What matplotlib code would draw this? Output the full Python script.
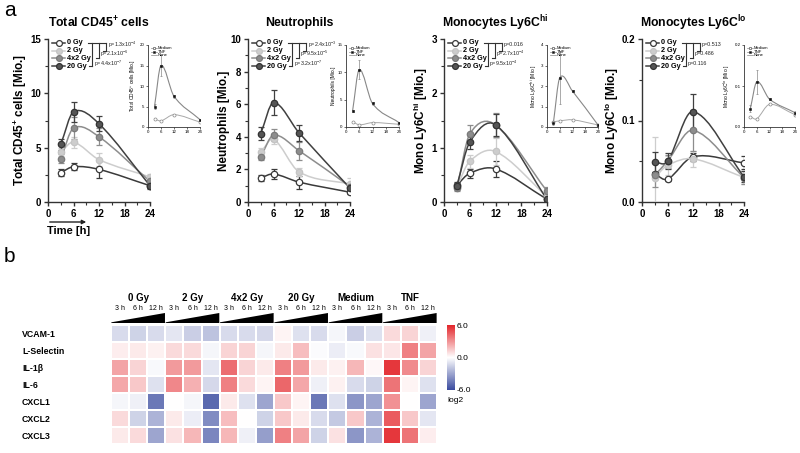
import matplotlib
matplotlib.use('Agg')
import matplotlib.pyplot as plt
import numpy as np
from matplotlib.path import Path
from matplotlib.patches import PathPatch, Polygon
from matplotlib.colors import LinearSegmentedColormap
from matplotlib.lines import Line2D
import matplotlib.transforms as mtransforms

plt.rcParams['font.family'] = ['Liberation Sans', 'DejaVu Sans']
plt.rcParams['mathtext.fontset'] = 'custom'
plt.rcParams['mathtext.rm'] = 'Liberation Sans'
plt.rcParams['mathtext.bf'] = 'Liberation Sans:bold'

# ---------------- data ----------------
times = [3, 6, 12, 24]
groups = ['0 Gy', '2 Gy', '4x2 Gy', '20 Gy']

cd45_means = [[2.7, 3.25, 3.0, 1.5],
              [4.6, 5.5, 3.9, 2.3],
              [4.0, 6.8, 6.0, 1.9],
              [5.3, 8.3, 7.2, 1.5]]
cd45_errs = [[0.35, 0.35, 0.75, 0.15],
             [0.4, 0.5, 0.6, 0.3],
             [0.4, 1.0, 0.8, 0.3],
             [0.5, 0.9, 0.7, 0.3]]

neut_means = [[1.48, 1.72, 1.22, 0.6],
              [3.05, 3.85, 1.85, 1.1],
              [2.78, 4.1, 3.15, 0.95],
              [4.2, 6.1, 4.25, 0.85]]
neut_errs = [[0.2, 0.3, 0.4, 0.1],
             [0.25, 0.3, 0.25, 0.35],
             [0.2, 0.35, 0.55, 0.15],
             [0.4, 0.75, 0.5, 0.1]]

monohi_means = [[0.31, 0.53, 0.61, 0.05],
                [0.28, 0.75, 0.93, 0.1],
                [0.25, 1.25, 1.42, 0.2],
                [0.3, 1.1, 1.42, 0.05]]
monohi_errs = [[0.05, 0.08, 0.15, 0.02],
               [0.04, 0.12, 0.25, 0.05],
               [0.05, 0.17, 0.22, 0.08],
               [0.04, 0.13, 0.2, 0.03]]

monolo_means = [[0.034, 0.028, 0.0556, 0.048],
                [0.03, 0.045, 0.053, 0.03],
                [0.033, 0.05, 0.088, 0.03],
                [0.049, 0.05, 0.111, 0.031]]
monolo_errs = [[0.003, 0.002, 0.005, 0.008],
               [0.05, 0.012, 0.01, 0.008],
               [0.015, 0.008, 0.025, 0.008],
               [0.012, 0.01, 0.022, 0.007]]

pvals_cd45 = [r'p=1.3x10$^{-4}$', r'p=2.1x10$^{-6}$', r'p=4.4x10$^{-7}$']
pvals_neut = [r'p=2.4x10$^{-3}$', r'p=9.5x10$^{-5}$', r'p=3.2x10$^{-7}$']
pvals_monohi = ['p=0.016', r'p=2.7x10$^{-4}$', r'p=9.5x10$^{-4}$']
pvals_monolo = ['p=0.513', 'p=0.486', 'p=0.116']

inset_groups = ['Medium', 'TNF', 'None']
inset_cd45_medium = [2.0, 1.5, 3.0, 1.2]
inset_cd45_tnf = [5.0, 15.0, 7.5, 1.8]
inset_cd45_tnf_err = [0.5, 2.5, 0.4, 0.2]
inset_neut_medium = [1.0, 0.4, 0.8, 0.5]
inset_neut_tnf = [3.0, 10.5, 4.3, 0.8]
inset_neut_tnf_err = [0.2, 1.8, 0.2, 0.1]
inset_monohi_medium = [0.25, 0.3, 0.35, 0.1]
inset_monohi_tnf = [0.2, 2.4, 1.75, 0.1]
inset_monohi_tnf_err = [0.1, 1.3, 0.05, 0.03]
inset_monolo_medium = [0.025, 0.02, 0.055, 0.03]
inset_monolo_tnf = [0.045, 0.11, 0.068, 0.035]
inset_monolo_tnf_err = [0.008, 0.03, 0.003, 0.005]

genes = ['VCAM-1', 'L-Selectin', 'IL-1\u03b2', 'IL-6', 'CXCL1', 'CXCL2', 'CXCL3']
conditions = ['0 Gy', '2 Gy', '4x2 Gy', '20 Gy', 'Medium', 'TNF']
hm_times = ['3 h', '6 h', '12 h']
heat_values = [
    [-1.2, -1.5, -1.2, -0.8, -1.6, -2.0, -1.2, -1.2, -1.3, 0.3, -1.0, -1.2, -0.3, -1.6, -1.0, 1.0, 1.2, -0.5],
    [0.5, 0.6, 0.4, 1.0, 1.0, -0.3, 1.2, 1.2, -0.3, 0.6, 1.8, -0.1, -0.6, -0.2, 0.8, 0.7, 3.5, 2.5],
    [2.5, 1.2, -0.2, 2.8, 2.8, -0.8, 4.0, 1.2, 0.6, 3.5, 2.8, 0.6, 0.4, 2.0, 0.2, 5.5, 3.2, 1.2],
    [2.4, 1.5, -1.0, 3.3, 2.2, -1.3, 3.5, 1.0, 0.3, 4.2, 2.4, -0.5, 0.4, -1.2, -1.5, 3.8, 0.3, -1.0],
    [-0.3, -0.5, -4.5, 0.0, -0.3, -5.0, 0.6, -1.0, -3.0, 1.5, 0.3, -4.5, -1.0, -3.5, -3.0, 3.0, 0.0, -3.0],
    [1.0, -1.5, -2.5, 0.6, -0.6, -3.8, 1.8, 0.0, -1.5, 1.5, 0.6, -1.2, -1.8, 1.5, -2.5, 4.5, 1.5, -0.8],
    [0.6, 1.0, -3.0, 0.8, 2.0, -4.0, 2.0, -0.5, -3.2, 3.5, 2.5, -1.5, 0.8, -3.5, -2.5, 5.5, 3.8, 0.5],
]

# ---------------- helpers ----------------
W, H = 800, 453
fig = plt.figure(figsize=(8, 4.53), dpi=100)


def add_ax(l, r, t, b):
    return fig.add_axes([l / W, 1 - b / H, (r - l) / W, (b - t) / H])


def fx(px):
    return px / W


def fy(py):
    return 1 - py / H


def smooth_path(x, y):
    x = np.asarray(x, float)
    y = np.asarray(y, float)
    n = len(x)
    m = np.zeros(n)
    m[0] = (y[1] - y[0]) / (x[1] - x[0])
    m[-1] = (y[-1] - y[-2]) / (x[-1] - x[-2])
    for i in range(1, n - 1):
        m[i] = (y[i + 1] - y[i - 1]) / (x[i + 1] - x[i - 1])
    verts = [(x[0], y[0])]
    codes = [Path.MOVETO]
    for i in range(n - 1):
        h = x[i + 1] - x[i]
        verts += [(x[i] + h / 3, y[i] + m[i] * h / 3),
                  (x[i + 1] - h / 3, y[i + 1] - m[i + 1] * h / 3),
                  (x[i + 1], y[i + 1])]
        codes += [Path.CURVE4] * 3
    return Path(verts, codes)


styles = [
    dict(line='#3a3a3a', mfc='white', mec='#3a3a3a'),
    dict(line='#cdcdcd', mfc='#cdcdcd', mec='#c4c4c4'),
    dict(line='#8d8d8d', mfc='#8d8d8d', mec='#7a7a7a'),
    dict(line='#404040', mfc='#555555', mec='#333333'),
]

panels = [
    dict(L=48, R=150, ylim=(0, 15), yticks=[0, 5, 10, 15], yminor=[2.5, 7.5, 12.5],
         ytl=['0', '5', '10', '15'],
         title=r'Total CD45$^{\mathbf{+}}$ cells', ylabel=r'Total CD45$^{\mathbf{+}}$ cells [Mio.]', ylx=29,
         means=cd45_means, errs=cd45_errs, pv=pvals_cd45,
         inset=dict(L=148, R=200, ylim=(0, 20), yticks=[0, 5, 10, 15, 20], ytl=['0', '5', '10', '15', '20'],
                    med=inset_cd45_medium, tnf=inset_cd45_tnf, tnf_err=inset_cd45_tnf_err,
                    ylabel=r'Total CD45$^{+}$ cells [Mio.]')),
    dict(L=248, R=350, ylim=(0, 10), yticks=[0, 2, 4, 6, 8, 10], yminor=[1, 3, 5, 7, 9],
         ytl=['0', '2', '4', '6', '8', '10'],
         title='Neutrophils', ylabel='Neutrophils [Mio.]', ylx=230,
         means=neut_means, errs=neut_errs, pv=pvals_neut,
         inset=dict(L=346, R=399, ylim=(0, 15), yticks=[0, 5, 10, 15], ytl=['0', '5', '10', '15'],
                    med=inset_neut_medium, tnf=inset_neut_tnf, tnf_err=inset_neut_tnf_err,
                    ylabel='Neutrophils [Mio.]')),
    dict(L=444, R=547, ylim=(0, 3), yticks=[0, 1, 2, 3], yminor=[0.5, 1.5, 2.5],
         ytl=['0', '1', '2', '3'],
         title=r'Monocytes Ly6C$^{\mathbf{hi}}$', ylabel=r'Mono Ly6C$^{\mathbf{hi}}$ [Mio.]', ylx=430,
         means=monohi_means, errs=monohi_errs, pv=pvals_monohi,
         inset=dict(L=547, R=598, ylim=(0, 4), yticks=[0, 1, 2, 3, 4], ytl=['0', '1', '2', '3', '4'],
                    med=inset_monohi_medium, tnf=inset_monohi_tnf, tnf_err=inset_monohi_tnf_err,
                    ylabel=r'Mono Ly6C$^{hi}$ [Mio.]')),
    dict(L=642, R=744, ylim=(0, 0.2), yticks=[0, 0.1, 0.2], yminor=[0.05, 0.15],
         ytl=['0.0', '0.1', '0.2'],
         title=r'Monocytes Ly6C$^{\mathbf{lo}}$', ylabel=r'Mono Ly6C$^{\mathbf{lo}}$ [Mio.]', ylx=621,
         means=monolo_means, errs=monolo_errs, pv=pvals_monolo,
         inset=dict(L=744, R=795, ylim=(0, 0.2), yticks=[0, 0.1, 0.2], ytl=['0.0', '0.1', '0.2'],
                    med=inset_monolo_medium, tnf=inset_monolo_tnf, tnf_err=inset_monolo_tnf_err,
                    ylabel=r'Mono Ly6C$^{lo}$ [Mio.]')),
]

SP = '#333333'
for p in panels:
    ax = add_ax(p['L'], p['R'], 39, 202)
    ax.set_xlim(0, 24)
    ax.set_ylim(*p['ylim'])
    for s in ['top', 'right']:
        ax.spines[s].set_visible(False)
    for s in ['left', 'bottom']:
        ax.spines[s].set_linewidth(1.0)
        ax.spines[s].set_color(SP)
    ax.set_xticks([0, 6, 12, 18, 24])
    ax.set_xticks([3, 9, 15, 21], minor=True)
    ax.set_xticklabels(['0', '6', '12', '18', '24'], fontsize=7, fontweight='bold')
    ax.set_yticks(p['yticks'])
    ax.set_yticks(p['yminor'], minor=True)
    ax.set_yticklabels(p['ytl'], fontsize=7, fontweight='bold')
    ax.tick_params(which='major', length=3, width=1.0, color=SP, pad=2)
    ax.tick_params(which='minor', length=2, width=0.8, color=SP)
    ax.set_ylabel(p['ylabel'], fontsize=8.5, fontweight='bold')
    ax.yaxis.set_label_coords((p['ylx'] - p['L']) / (p['R'] - p['L']), 0.5)
    fig.text(fx((p['L'] + p['R']) / 2), fy(23), p['title'], fontsize=8.8, fontweight='bold',
             ha='center', va='center')

    order = [1, 2, 3, 0]
    for gi in order:
        st = styles[gi]
        m = p['means'][gi]
        e = p['errs'][gi]
        ax.add_patch(PathPatch(smooth_path(times, m), fill=False, edgecolor=st['line'], lw=1.1, zorder=2 + gi * 0.1))
        ax.errorbar(times, m, yerr=e, fmt='none', ecolor=st['line'], elinewidth=0.9, capsize=2, capthick=0.9,
                    zorder=2.5 + gi * 0.1)
        ax.plot(times, m, 'o', ms=4.6, mfc=st['mfc'], mec=st['mec'], mew=0.9, zorder=3 + gi * 0.1)

    # legend (manual) and significance brackets
    L = p['L']
    rows = [42.7, 50.5, 58.3, 66.0]
    for gi, ry in enumerate(rows):
        st = styles[gi]
        fig.add_artist(Line2D([fx(L + 4), fx(L + 17)], [fy(ry), fy(ry)], color=st['line'], lw=1.1))
        fig.add_artist(Line2D([fx(L + 10.5)], [fy(ry)], marker='o', ms=4.2, mfc=st['mfc'], mec=st['mec'], mew=0.9))
        fig.text(fx(L + 19), fy(ry), groups[gi], fontsize=5.2, fontweight='bold', ha='left', va='center')
    lw = 0.8
    for (xv, r2) in [(L + 44, 3), (L + 51, 2), (L + 58, 1)]:
        fig.add_artist(Line2D([fx(xv), fx(xv)], [fy(rows[0]), fy(rows[r2])], color=SP, lw=lw))
        fig.add_artist(Line2D([fx(xv - 3), fx(xv)], [fy(rows[r2]), fy(rows[r2])], color=SP, lw=lw))
    fig.add_artist(Line2D([fx(L + 40), fx(L + 58)], [fy(rows[0]), fy(rows[0])], color=SP, lw=lw))
    fig.text(fx(L + 59.5), fy(44.5), p['pv'][0], fontsize=3.9, ha='left', va='center', color='#222222')
    fig.text(fx(L + 52.5), fy(54), p['pv'][1], fontsize=3.9, ha='left', va='center', color='#222222')
    fig.text(fx(L + 45.5), fy(64), p['pv'][2], fontsize=3.9, ha='left', va='center', color='#222222')

    # inset
    ins = p['inset']
    ia = add_ax(ins['L'], ins['R'], 45, 127)
    ia.set_xlim(0, 24)
    ia.set_ylim(*ins['ylim'])
    for s in ['top', 'right']:
        ia.spines[s].set_visible(False)
    for s in ['left', 'bottom']:
        ia.spines[s].set_linewidth(0.6)
        ia.spines[s].set_color(SP)
    ia.set_xticks([0, 6, 12, 18, 24])
    ia.set_xticklabels(['0', '6', '12', '18', '24'], fontsize=3.2)
    ia.set_yticks(ins['yticks'])
    ia.set_yticklabels(ins['ytl'], fontsize=3.2)
    ia.tick_params(length=1.5, width=0.5, pad=1, color=SP)
    ia.set_ylabel(ins['ylabel'], fontsize=3.5, labelpad=1.5)
    ia.add_patch(PathPatch(smooth_path(times, ins['med']), fill=False, edgecolor='#a8a8a8', lw=0.7))
    ia.plot(times, ins['med'], 'o', ms=2.2, mfc='white', mec='#888888', mew=0.5)
    ia.add_patch(PathPatch(smooth_path(times, ins['tnf']), fill=False, edgecolor='#888888', lw=0.8))
    ia.errorbar(times, ins['tnf'], yerr=ins['tnf_err'], fmt='none', ecolor='#888888', elinewidth=0.5,
                capsize=1, capthick=0.5)
    ia.plot(times, ins['tnf'], 's', ms=2.0, mfc='#111111', mec='#111111', mew=0.4)
    il = ins['L']
    for k, (lab, mk, mf) in enumerate([('Medium', 'o', 'white'), ('TNF', 's', '#111111'), ('None', None, None)]):
        ry = 48 + k * 3.6
        fig.add_artist(Line2D([fx(il + 3), fx(il + 9)], [fy(ry), fy(ry)], color='#888888', lw=0.5))
        if mk:
            fig.add_artist(Line2D([fx(il + 6)], [fy(ry)], marker=mk, ms=1.8, mfc=mf, mec='#333333', mew=0.4))
        fig.text(fx(il + 10), fy(ry), lab, fontsize=3, ha='left', va='center')

# time arrow
fig.add_artist(matplotlib.patches.FancyArrowPatch((fx(47), fy(222)), (fx(89), fy(222)),
                                                  transform=fig.transFigure, arrowstyle='-|>',
                                                  mutation_scale=6, lw=1.0, color='#222222'))
fig.text(fx(47), fy(231), 'Time [h]', fontsize=8, fontweight='bold', ha='left', va='center')

# panel labels
fig.text(fx(4), fy(11), 'a', fontsize=15, ha='left', va='center')
fig.text(fx(4), fy(256), 'b', fontsize=15, ha='left', va='center')

# ---------------- heatmap ----------------
cmap = LinearSegmentedColormap.from_list('bwr2', ['#3a4b9f', '#ffffff', '#e3262b'])
hx = add_ax(111, 437, 325, 444)
data = np.array(heat_values)
mesh = hx.pcolormesh(np.arange(19), np.arange(8), data, cmap=cmap, vmin=-6, vmax=6,
                     edgecolors='white', linewidth=1.2)
hx.set_xlim(0, 18)
hx.set_ylim(7, 0)
for s in hx.spines.values():
    s.set_visible(False)
hx.set_xticks([])
hx.set_yticks(np.arange(7) + 0.5)
hx.set_yticklabels(genes, fontsize=6.3, fontweight='bold')
hx.tick_params(axis='y', length=0, pad=89 * 72 / 100)
for lab in hx.get_yticklabels():
    lab.set_ha('left')

bt = mtransforms.blended_transform_factory(hx.transData, fig.transFigure)
for gi, cond in enumerate(conditions):
    x0 = gi * 3
    hx.text(x0 + 1.5, fy(298), cond, transform=bt, fontsize=7, fontweight='bold', ha='center', va='center',
            clip_on=False)
    for ti, tl in enumerate(hm_times):
        hx.text(x0 + ti + 0.5, fy(308), tl, transform=bt, fontsize=5, ha='center', va='center', clip_on=False)
    tri = Polygon([(x0 + 0.02, fy(323)), (x0 + 2.98, fy(323)), (x0 + 2.98, fy(313)), (x0 + 0.02, fy(322.3))],
                  closed=True, transform=bt, facecolor='black', edgecolor='none', clip_on=False)
    hx.add_patch(tri)

cax = add_ax(447, 455, 325, 390)
cb = fig.colorbar(mesh, cax=cax, ticks=[-6, 0, 6])
cb.outline.set_visible(False)
cb.set_ticklabels(['-6.0', '0.0', '6.0'])
cax.tick_params(length=0, labelsize=6, pad=1)
fig.text(fx(447), fy(400), 'log2', fontsize=6, ha='left', va='center')

fig.savefig('out.png', dpi=100)
